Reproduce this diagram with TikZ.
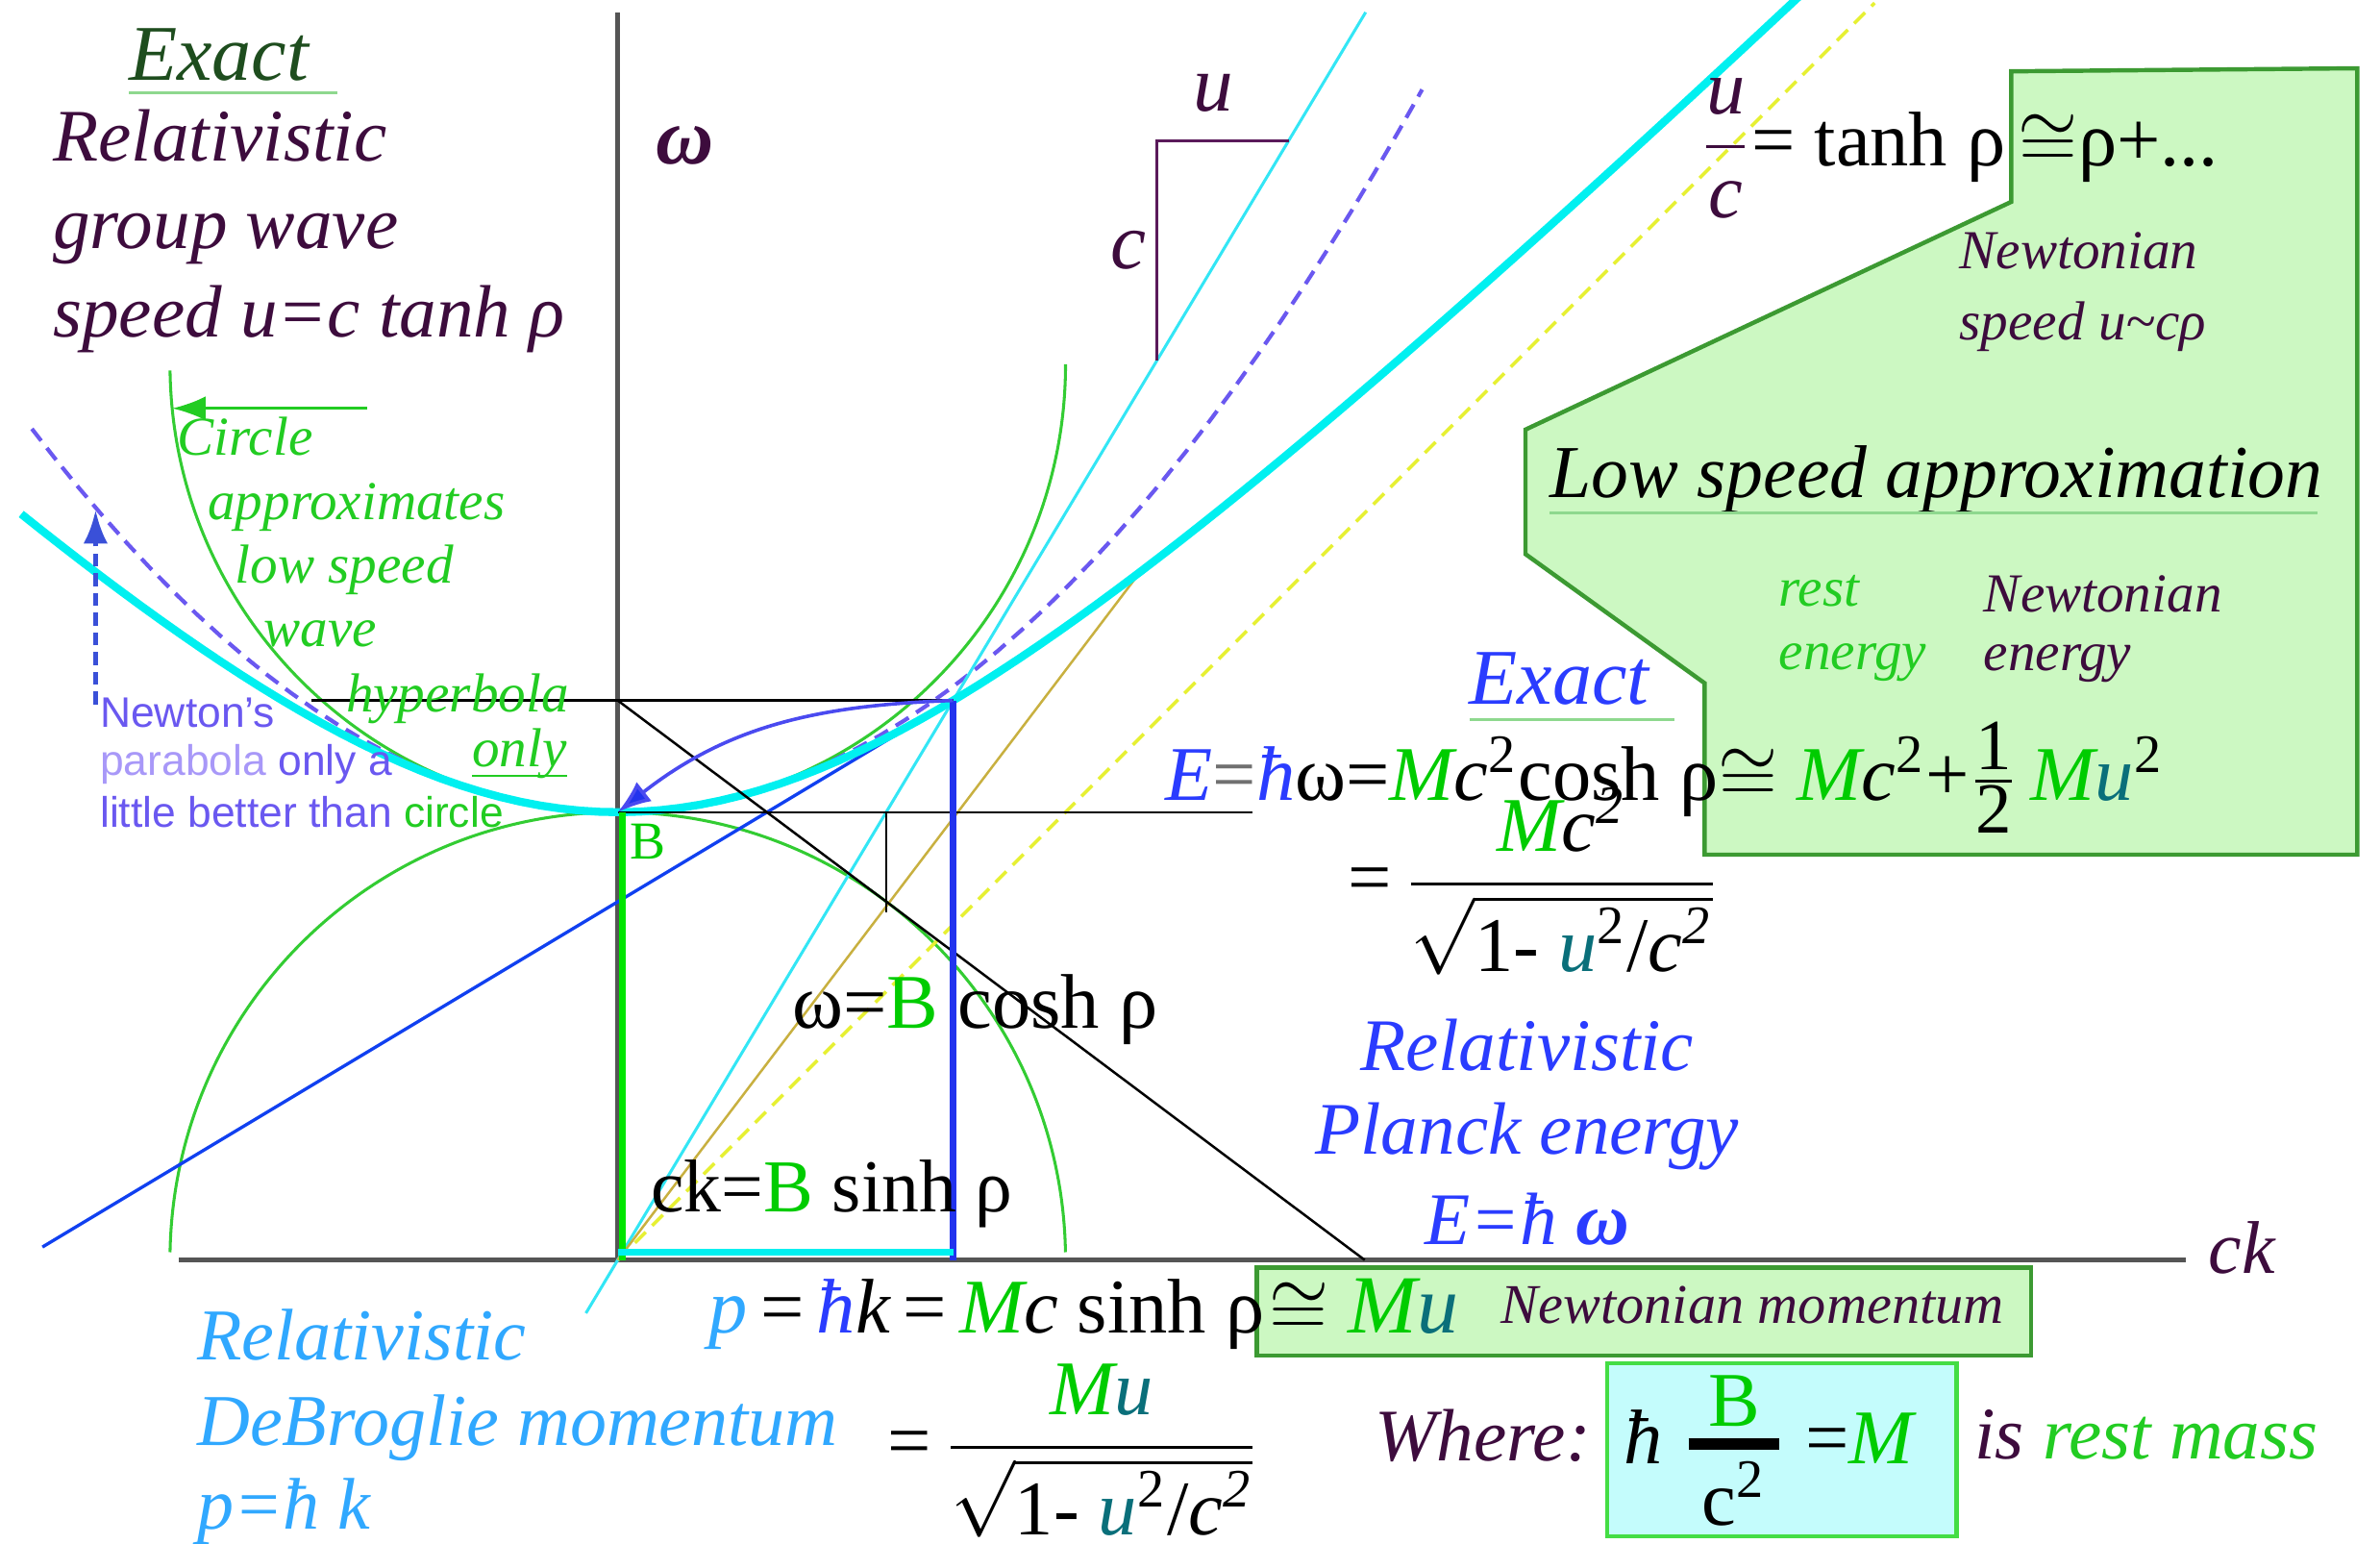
\documentclass[tikz,border=0pt]{standalone}
\usepackage{fontspec}
\usepackage{amsmath}
\setmainfont{Liberation Serif}
\setsansfont{Liberation Sans}
\usetikzlibrary{arrows.meta, positioning, calc}
\definecolor{relpurple}{HTML}{3D0C3D}
\definecolor{exgreen}{HTML}{1E4D1E}
\definecolor{ulgreen}{HTML}{8ED88E}
\definecolor{txtgreen}{HTML}{22CC22}
\definecolor{massgreen}{HTML}{00CC00}
\definecolor{fatgreen}{HTML}{00E600}
\definecolor{arcgreen}{HTML}{33CC33}
\definecolor{hypcyan}{HTML}{00F0F0}
\definecolor{thincyan}{HTML}{33E6F5}
\definecolor{fatblue}{HTML}{2233EE}
\definecolor{tanblue}{HTML}{1040F0}
\definecolor{curveblue}{HTML}{4A4AF0}
\definecolor{dashblue}{HTML}{3A50D8}
\definecolor{planckblue}{HTML}{2A3CFF}
\definecolor{brogblue}{HTML}{30A8FF}
\definecolor{newtviolet}{HTML}{6A58F0}
\definecolor{paleviolet}{HTML}{A898F8}
\definecolor{olivetan}{HTML}{C8B040}
\definecolor{ydash}{HTML}{E6F032}
\definecolor{polyfill}{HTML}{CCF8C2}
\definecolor{polyedge}{HTML}{3C9A32}
\definecolor{boxcyan}{HTML}{C4FCFC}
\definecolor{boxedge}{HTML}{44DD44}
\definecolor{ucol}{HTML}{0A6F7A}
\definecolor{axisgray}{HTML}{555555}
\definecolor{eqgray}{HTML}{707070}
\definecolor{tripurple}{HTML}{5A1A5A}

\begin{document}
\begin{tikzpicture}[x=1cm, y=1cm,
    lbl/.style={anchor=base west, inner sep=0pt, outer sep=0pt},
    bigit/.style={lbl, font=\fontsize{13.9}{16.5}\selectfont\itshape},
    smallit/.style={lbl, font=\fontsize{10.3}{12.4}\selectfont\itshape},
    formula/.style={lbl, font=\fontsize{14.5}{17}\selectfont},
    sanstxt/.style={lbl, font=\fontsize{8}{9.6}\selectfont\sffamily, text=newtviolet},
    axisline/.style={line width=0.85pt, draw=axisgray},
    hair/.style={line width=0.45pt, draw=#1},
    fatline/.style={line width=1.3pt, draw=#1},
    arcline/.style={line width=0.55pt, draw=arcgreen},
    dashline/.style={line width=0.65pt, draw=#1, dash pattern=on 1mm off 0.6mm},
    uline/.style={line width=0.6pt, draw=#1},
    headed/.style={-{Latex[length=2.2mm, width=1.6mm, fill=#1]}},
    boxed/.style={line width=0.8pt, draw=#1},
]
    \useasboundingbox (-4.07,-1.87) rectangle (11.61,8.30);

    % Hyperbola data
    \pgfmathsetmacro{\bval}{2.95}
    \pgfmathsetmacro{\rsh}{0.749}
    \pgfmathsetmacro{\rch}{sqrt(1+\rsh*\rsh)}
    \coordinate (O) at (0,0);
    \coordinate (V) at (0,\bval);
    \coordinate (P) at ({\bval*\rsh},{\bval*\rch});
    \coordinate (Pw) at (0,{\bval*\rch});
    \coordinate (Pk) at ({\bval*\rsh},0);
    \coordinate (T) at ({\bval*\rsh/\rch},{\bval/\rch});
    \coordinate (Kx) at ({\bval*\rch/\rsh},0);
    \coordinate (C2) at (0,{2*\bval});
    \coordinate (Pl) at (-2.02,{\bval*\rch});
    \coordinate (Vr) at (4.18,\bval);
    \coordinate (kleft) at (-2.89,0);
    \coordinate (kright) at (10.33,0);
    \coordinate (wtop) at (0,8.22);

    % Green panels
    \draw[boxed=polyedge, fill=polyfill] (9.18,7.83) -- (11.46,7.85) -- (11.46,2.67) -- (7.16,2.67)
        -- (7.16,3.80) -- (5.98,4.65) -- (5.98,5.47) -- (9.18,6.97) -- cycle;
    \draw[boxed=polyedge, fill=polyfill] (4.21,-0.05) rectangle (9.31,-0.63);
    \draw[boxed=boxedge, fill=boxcyan] (6.52,-0.68) rectangle (8.82,-1.82);

    % Axes
    \draw[axisline] (kleft) -- (kright);
    \draw[axisline] (O) -- (wtop);

    % Circles, parabola, hyperbola
    \draw[arcline] ($(C2)+(180.8:\bval)$) arc[start angle=180.8, end angle=360, radius=\bval];
    \draw[arcline] ($(O)+(179:\bval)$) arc[start angle=179, end angle=1, radius=\bval];
    \draw[dashline=ydash] (O) -- (8.28,8.28);
    \draw[dashline=newtviolet, line width=0.75pt] plot[domain=-3.86:5.30, samples=60] (\x,{\bval+\x*\x/(2*\bval)});
    \draw[hair=thincyan, line width=0.55pt] ($(O)!-0.095!(P)$) -- ($(O)!2.23!(P)$);
    \draw[hair=olivetan] (O) -- (3.44,4.53);
    \draw[hair=tanblue, line width=0.6pt] ($(P)+(-6.0,-3.6)$) -- (P);
    \draw[fatline=hypcyan, line width=1.5pt] plot[domain=-3.93:7.78, samples=90] (\x,{sqrt(\bval*\bval+\x*\x)});

    % Construction lines
    \draw[hair=black] (Pl) -- (P);
    \draw[hair=black] (V) -- (Vr);
    \draw[hair=black] (Pw) -- (Kx);
    \draw[hair=black] (T |- V) -- ($(T)+(0,-0.07)$);
    \draw[fatline=fatblue] (P) -- (Pk);
    \draw[fatline=fatgreen] ($(V)+(0.03,0)$) -- ($(O)+(0.03,0)$);
    \draw[fatline=hypcyan] ($(O)+(0,0.05)$) -- ($(Pk)+(0,0.05)$);

    % Arrows
    \draw[headed=fatblue, line width=0.65pt, draw=curveblue] (P) to[out=182, in=38] (V);
    \coordinate (gtail) at (-1.65,5.61);
    \coordinate (gtip) at (-2.935,5.61);
    \draw[headed=txtgreen, line width=0.6pt, draw=txtgreen] (gtail) -- (gtip);
    \coordinate (ntail) at (-3.44,3.66);
    \coordinate (ntip) at (-3.44,4.94);
    \draw[headed=dashblue, line width=0.9pt, draw=dashblue, dash pattern=on 0.85mm off 0.45mm] (ntail) -- (ntip);

    % Speed triangle
    \coordinate (Ta) at ($(O)!1.607!(P)$);
    \coordinate (Tb) at ($(O)!2.0!(P)$);
    \draw[uline=tripurple] (Ta) -- (Ta |- Tb) -- (Tb);
    \node[lbl, font=\fontsize{15}{17}\selectfont\itshape, text=relpurple] (ulbl) at (3.79,7.57) {u};
    \node[lbl, font=\fontsize{15}{17}\selectfont\itshape, text=relpurple] (clbl) at (3.25,6.53) {c};

    % Upper left text
    \node[lbl, font=\fontsize{14.8}{17}\selectfont\itshape, text=exgreen] (exacttl) at (-3.22,7.77) {Exact};
    \draw[uline=ulgreen] ($(exacttl.base west)+(0,-0.08)$) -- ++(1.37,0);
    \node[bigit, text=relpurple] (grp1) at (-3.72,7.24) {Relativistic};
    \node[bigit, text=relpurple] (grp2) at (-3.72,6.66) {group wave};
    \node[bigit, text=relpurple] (grp3) at (-3.72,6.08) {speed u=c tanh ρ};
    \node[lbl, font=\fontsize{15}{17}\selectfont\bfseries\itshape, text=relpurple] (wlbl) at (0.25,7.22) {ω};

    % Circle note
    \node[smallit, text=txtgreen] (circ1) at (-2.90,5.30) {Circle};
    \node[smallit, text=txtgreen] (circ2) at (-2.70,4.88) {approximates};
    \node[smallit, text=txtgreen] (circ3) at (-2.52,4.46) {low speed};
    \node[smallit, text=txtgreen] (circ4) at (-2.33,4.04) {wave};
    \node[smallit, text=txtgreen] (circ5) at (-1.79,3.61) {hyperbola};
    \node[smallit, text=txtgreen] (circ6) at (-0.96,3.25) {only};
    \draw[uline=txtgreen, line width=0.4pt] ($(circ6.base west)+(0,-0.06)$) -- ($(circ6.base east)+(0,-0.06)$);

    % Newton note
    \node[sanstxt] (newt1) at (-3.41,3.51) {Newton’s};
    \node[sanstxt] (newt2) at (-3.41,3.19) {\textcolor{paleviolet}{parabola} only a};
    \node[sanstxt] (newt3) at (-3.41,2.85) {little better than \textcolor{txtgreen}{circle}};

    % Inner labels
    \node[lbl, font=\fontsize{10}{12}\selectfont, text=massgreen] (blbl) at (0.08,2.64) {B};
    \node[formula] (omcosh) at (1.15,1.53) {ω=\textcolor{massgreen}{B} cosh ρ};
    \node[formula, font=\fontsize{14}{17}\selectfont] (cksinh) at (0.22,0.32) {ck=\textcolor{massgreen}{B} sinh ρ};
    \node[lbl, font=\fontsize{14}{17}\selectfont\itshape, text=relpurple] (cklbl) at (10.48,-0.09) {ck};

    % Low speed panel
    \node[formula] (tanhrel) at (7.13,7.21) {\textcolor{relpurple}{$\dfrac{\mbox{\itshape u}}{\mbox{\itshape c}}$}= tanh ρ\,$\cong$ρ+...};
    \node[smallit, text=relpurple] (nspeed1) at (8.84,6.53) {Newtonian};
    \node[smallit, text=relpurple] (nspeed2) at (8.84,6.06) {speed u\textasciitilde cρ};
    \node[lbl, font=\fontsize{14}{17}\selectfont\itshape] (lowspeed) at (6.14,5.02) {Low speed approximation};
    \draw[uline=ulgreen] ($(lowspeed.base west)+(0,-0.10)$) -- ++(5.06,0);
    \node[smallit, text=txtgreen] (rest1) at (7.65,4.31) {rest};
    \node[smallit, text=txtgreen] (rest2) at (7.65,3.89) {energy};
    \node[smallit, text=relpurple] (newten1) at (9.00,4.27) {Newtonian};
    \node[smallit, text=relpurple] (newten2) at (9.00,3.88) {energy};

    % Energy
    \node[lbl, font=\fontsize{14.8}{17}\selectfont\itshape, text=planckblue] (exactbl) at (5.61,3.66) {Exact};
    \draw[uline=ulgreen] ($(exactbl.base west)+(0,-0.10)$) -- ++(1.35,0);
    \node[formula] (energy) at (3.61,3.03) {\textcolor{planckblue}{\itshape E}\textcolor{eqgray}{=}\textcolor{planckblue}{\itshape ħ}ω=\textcolor{massgreen}{\itshape M}{\itshape c}\textsuperscript{2}cosh ρ$\cong$ \textcolor{massgreen}{\itshape M}{\itshape c}\textsuperscript{2}+$\genfrac{}{}{}{1}{\mbox{\fontsize{13.5}{13.5}\selectfont 1}}{\mbox{\fontsize{13.5}{13.5}\selectfont 2}}$\,\textcolor{massgreen}{\itshape M}\textcolor{ucol}{\itshape u}\textsuperscript{2}};
    \node[formula] (energyroot) at (4.81,2.35) {=\,$\dfrac{\mbox{\textcolor{massgreen}{\itshape M}\itshape c\textsuperscript{2}}}{\sqrt{\mbox{1- \textcolor{ucol}{\itshape u}\textsuperscript{2}/\itshape c\textsuperscript{2}}}}$};
    \node[bigit, anchor=base, text=planckblue] (planck1) at (5.99,1.25) {Relativistic};
    \node[bigit, anchor=base, text=planckblue] (planck2) at (5.99,0.70) {Planck energy};
    \node[bigit, anchor=base, text=planckblue] (planck3) at (5.99,0.10) {E=ħ \textbf{ω}};

    % Momentum
    \node[formula] (momentum) at (0.60,-0.48) {\textcolor{brogblue}{\itshape p}\,=\,\textcolor{planckblue}{\itshape ħ}{\itshape k}\,=\,\textcolor{massgreen}{\itshape M}{\itshape c} sinh ρ};
    \node[lbl, font=\fontsize{15.5}{17}\selectfont] (newtmom) at (4.29,-0.48) {$\cong$\hspace{1.3mm}\textcolor{massgreen}{\itshape M}\textcolor{ucol}{\itshape u}};
    \node[lbl, font=\fontsize{10.5}{12}\selectfont\itshape, text=relpurple] (newtmomtxt) at (5.82,-0.42) {Newtonian momentum};
    \node[bigit, text=brogblue, font=\fontsize{13.7}{16}\selectfont\itshape] (brog1) at (-2.77,-0.66) {Relativistic};
    \node[bigit, text=brogblue, font=\fontsize{13.7}{16}\selectfont\itshape] (brog2) at (-2.77,-1.22) {DeBroglie momentum};
    \node[bigit, text=brogblue, font=\fontsize{13.7}{16}\selectfont\itshape] (brog3) at (-2.77,-1.77) {p=ħ k};
    \node[formula] (momroot) at (1.78,-1.36) {=\,$\dfrac{\mbox{\textcolor{massgreen}{\itshape M}\textcolor{ucol}{\itshape u}}}{\sqrt{\mbox{1- \textcolor{ucol}{\itshape u}\textsuperscript{2}/\itshape c\textsuperscript{2}}}}$};

    % Rest mass
    \node[bigit, text=relpurple] (where) at (4.99,-1.32) {Where:};
    \node[formula] (massdef) at (6.63,-1.34) {\itshape ħ\upshape\ $\genfrac{}{}{2.2pt}{1}{\makebox[6mm]{\textcolor{massgreen}{B}}}{\mbox{c\textsuperscript{2}}}$\ =\textcolor{massgreen}{\itshape M}};
    \node[bigit, text=relpurple] (restmass) at (8.94,-1.31) {is \textcolor{txtgreen}{rest mass}};
\end{tikzpicture}
\end{document}
